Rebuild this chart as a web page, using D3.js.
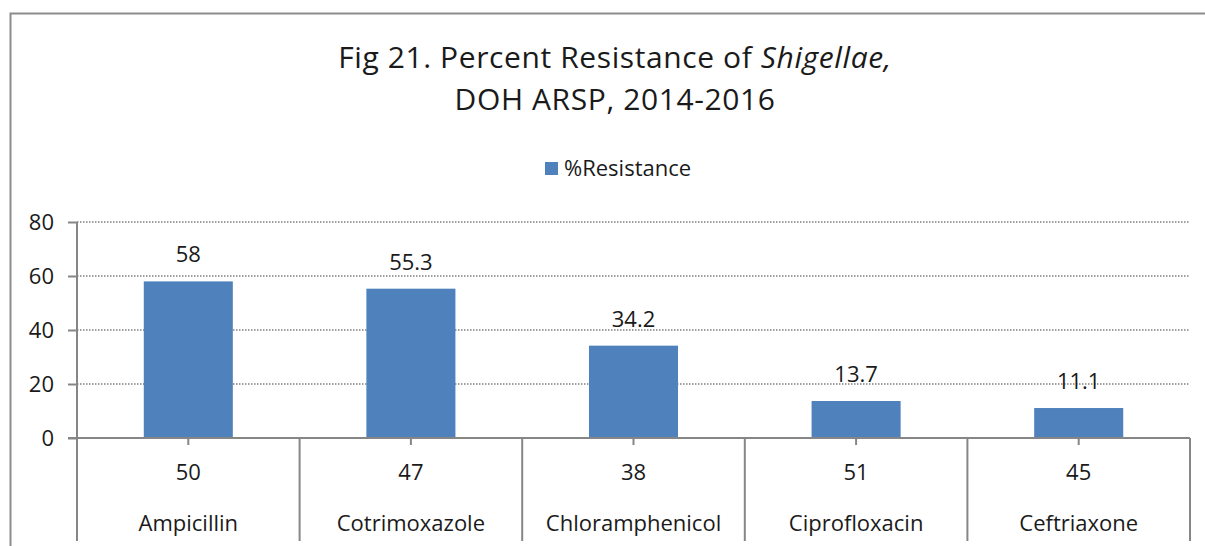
<!DOCTYPE html>
<html>
<head>
<meta charset="utf-8">
<script src="https://cdn.jsdelivr.net/npm/d3@7"></script>
<style>
  body { margin: 0; background: #fff; }
  text { font-family: "Open Sans", Lato, sans-serif; fill: #1a1a1a; }
</style>
</head>
<body>
<div id="chart"></div>
<script>
var drugs = ["Ampicillin", "Cotrimoxazole", "Chloramphenicol", "Ciprofloxacin", "Ceftriaxone"];
var counts = [50, 47, 38, 51, 45];
var resistance = [58, 55.3, 34.2, 13.7, 11.1];
var yTicks = [0, 20, 40, 60, 80];

var width = 1205, height = 546;
var margin = {top: 222, left: 77, right: 15, bottom: 108};

var svg = d3.select("#chart").append("svg")
    .attr("width", width)
    .attr("height", height);

// outer chart frame
svg.append("rect")
    .attr("x", 10.5).attr("y", 13.5)
    .attr("width", 1300).attr("height", 700)
    .attr("fill", "none")
    .attr("stroke", "#8c8c8c")
    .attr("stroke-width", 2);

var x = d3.scaleBand()
    .domain(drugs)
    .range([margin.left, width - margin.right])
    .padding(0);

var y = d3.scaleLinear()
    .domain([0, 80])
    .range([height - margin.bottom, margin.top]);

var y0 = y(0);

// title
var title = svg.append("text")
    .attr("x", 615).attr("y", 68)
    .attr("text-anchor", "middle")
    .style("font-size", "30px")
    .style("letter-spacing", "0.6px");
title.append("tspan").text("Fig 21. Percent Resistance of ");
title.append("tspan").style("font-style", "italic").text("Shigellae,");
svg.append("text")
    .attr("x", 615).attr("y", 110)
    .attr("text-anchor", "middle")
    .style("font-size", "30px")
    .style("letter-spacing", "0.6px")
    .text("DOH ARSP, 2014-2016");

// legend
svg.append("rect")
    .attr("x", 545).attr("y", 162)
    .attr("width", 13).attr("height", 13)
    .attr("fill", "#4f81bd");
svg.append("text")
    .attr("x", 564).attr("y", 176)
    .style("font-size", "22px")
    .text("%Resistance");

// gridlines
svg.append("g")
  .selectAll("line")
  .data(yTicks.filter(function(d) { return d > 0; }))
  .join("line")
    .attr("x1", margin.left).attr("x2", x.range()[1])
    .attr("y1", function(d) { return y(d); })
    .attr("y2", function(d) { return y(d); })
    .attr("stroke", "#808080")
    .attr("stroke-width", 1.5)
    .attr("stroke-dasharray", "1.5,1.5");

// y axis
var yAxis = svg.append("g")
    .attr("transform", "translate(" + margin.left + ",0)")
    .call(d3.axisLeft(y).tickValues(yTicks).tickSize(9).tickPadding(14));
yAxis.select(".domain").remove();
yAxis.selectAll(".tick line").attr("stroke", "#868686").attr("stroke-width", 2);
yAxis.selectAll(".tick text")
    .style("font-size", "22px")
    .style("font-family", "'Open Sans', sans-serif")
    .attr("fill", "#1a1a1a");

svg.append("line")
    .attr("x1", margin.left).attr("x2", margin.left)
    .attr("y1", y(80)).attr("y2", 541)
    .attr("stroke", "#868686").attr("stroke-width", 2);

// bars
var bw = x.bandwidth() * 0.4;
svg.append("g")
  .selectAll("rect")
  .data(resistance)
  .join("rect")
    .attr("x", function(d, i) { return x(drugs[i]) + (x.bandwidth() - bw) / 2; })
    .attr("y", function(d) { return y(d); })
    .attr("width", bw)
    .attr("height", function(d) { return y0 - y(d); })
    .attr("fill", "#4f81bd");

// data labels
svg.append("g")
  .selectAll("text")
  .data(resistance)
  .join("text")
    .attr("x", function(d, i) { return x(drugs[i]) + x.bandwidth() / 2; })
    .attr("y", function(d) { return y(d) - 19; })
    .attr("text-anchor", "middle")
    .style("font-size", "22px")
    .text(function(d) { return d; });

// category axis baseline
svg.append("line")
    .attr("x1", margin.left - 9).attr("x2", x.range()[1])
    .attr("y1", y0).attr("y2", y0)
    .attr("stroke", "#868686").attr("stroke-width", 2);

// group separators
svg.append("g")
  .selectAll("line")
  .data(drugs)
  .join("line")
    .attr("x1", function(d) { return x(d) + x.step(); })
    .attr("x2", function(d) { return x(d) + x.step(); })
    .attr("y1", y0).attr("y2", 541)
    .attr("stroke", "#868686").attr("stroke-width", 2);

// center ticks
svg.append("g")
  .selectAll("line")
  .data(drugs)
  .join("line")
    .attr("x1", function(d) { return x(d) + x.bandwidth() / 2; })
    .attr("x2", function(d) { return x(d) + x.bandwidth() / 2; })
    .attr("y1", y0).attr("y2", y0 + 7)
    .attr("stroke", "#868686").attr("stroke-width", 2);

// count row
svg.append("g")
  .selectAll("text")
  .data(counts)
  .join("text")
    .attr("x", function(d, i) { return x(drugs[i]) + x.bandwidth() / 2; })
    .attr("y", 480)
    .attr("text-anchor", "middle")
    .style("font-size", "22px")
    .text(function(d) { return d; });

// drug row
svg.append("g")
  .selectAll("text")
  .data(drugs)
  .join("text")
    .attr("x", function(d) { return x(d) + x.bandwidth() / 2; })
    .attr("y", 531)
    .attr("text-anchor", "middle")
    .style("font-size", "22px")
    .text(function(d) { return d; });
</script>
</body>
</html>
